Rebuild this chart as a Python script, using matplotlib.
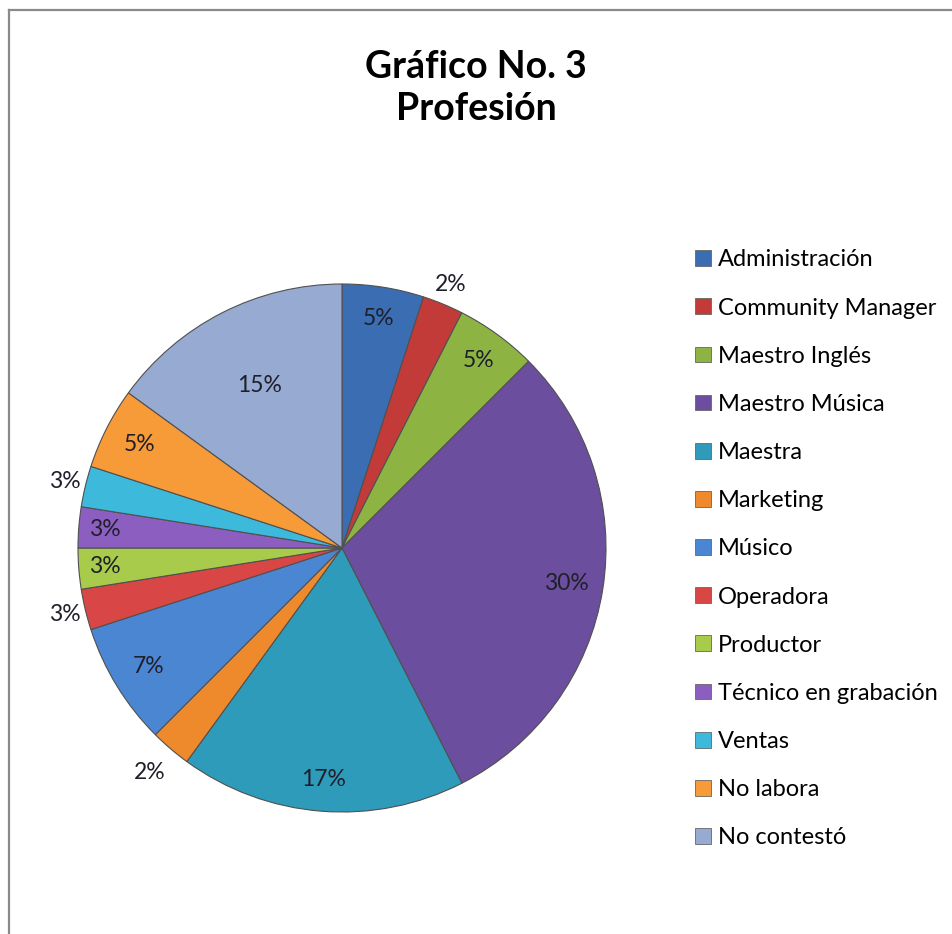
import numpy as np
import matplotlib.pyplot as plt
from matplotlib.patches import Patch
from matplotlib.lines import Line2D

# datos del grafico (n = 40 respuestas, etiquetas tal como aparecen)
categorias = ['Administración', 'Community Manager', 'Maestro Inglés', 'Maestro Música',
              'Maestra', 'Marketing', 'Músico', 'Operadora', 'Productor',
              'Técnico en grabación', 'Ventas', 'No labora', 'No contestó']
conteos = [2, 1, 2, 12, 7, 1, 3, 1, 1, 1, 1, 2, 6]
etiquetas = ['5%', '2%', '5%', '30%', '17%', '2%', '7%', '3%', '3%', '3%', '3%', '5%', '15%']
colores = ['#3A6DB2', '#C23B38', '#8DB443', '#6B4E9E', '#2E9BBA', '#EE8A2C',
           '#4A86D2', '#D94646', '#A8CB4C', '#8B5EC0', '#3DB9DB', '#F79A38', '#97AAD2']
# distancia de cada etiqueta (fraccion del radio)
dist_lbl = [0.88, 1.08, 0.88, 0.86, 0.88, 1.12, 0.86, 1.08, 0.90, 0.90, 1.08, 0.86, 0.69]

W, H = 952, 934
fig = plt.figure(figsize=(W / 100, H / 100), dpi=100)
fig.patch.set_facecolor('white')

cx, cy, r = 342, 548, 264
ax = fig.add_axes([(cx - r) / W, (H - cy - r) / H, 2 * r / W, 2 * r / H])
wedges, _ = ax.pie(conteos, colors=colores, startangle=90, counterclock=False,
                   radius=1, wedgeprops=dict(edgecolor='#505050', linewidth=0.8))
ax.set_xlim(-1, 1)
ax.set_ylim(-1, 1)
ax.axis('off')

for w, lbl, d in zip(wedges, etiquetas, dist_lbl):
    ang = np.deg2rad((w.theta1 + w.theta2) / 2)
    ax.text(d * np.cos(ang), d * np.sin(ang), lbl, ha='center', va='center',
            fontsize=16.5, family='Lato', color='#1f1f2a', clip_on=False)

fig.text(0.5, 1 - 88 / H, 'Gráfico No. 3\nProfesión', ha='center', va='center',
         fontsize=27, fontweight='bold', family='Lato', linespacing=1.3)

handles = [Patch(facecolor=c, edgecolor='#666666', linewidth=0.6) for c in colores]
fig.legend(handles, categorias, loc='upper left', bbox_to_anchor=(686 / W, 1 - 240 / H),
           frameon=False, prop={'family': 'Lato', 'size': 17}, labelspacing=1.15,
           handlelength=0.65, handleheight=0.65, handletextpad=0.3, borderaxespad=0)

# marco (solo visible borde superior e izquierdo)
fig.add_artist(Line2D([9 / W, 9 / W], [0, 1 - 10 / H], color='#8a8a8a', lw=1.6))
fig.add_artist(Line2D([9 / W, 1], [1 - 10 / H, 1 - 10 / H], color='#8a8a8a', lw=1.6))

fig.savefig('out.png', dpi=100, facecolor='white')
